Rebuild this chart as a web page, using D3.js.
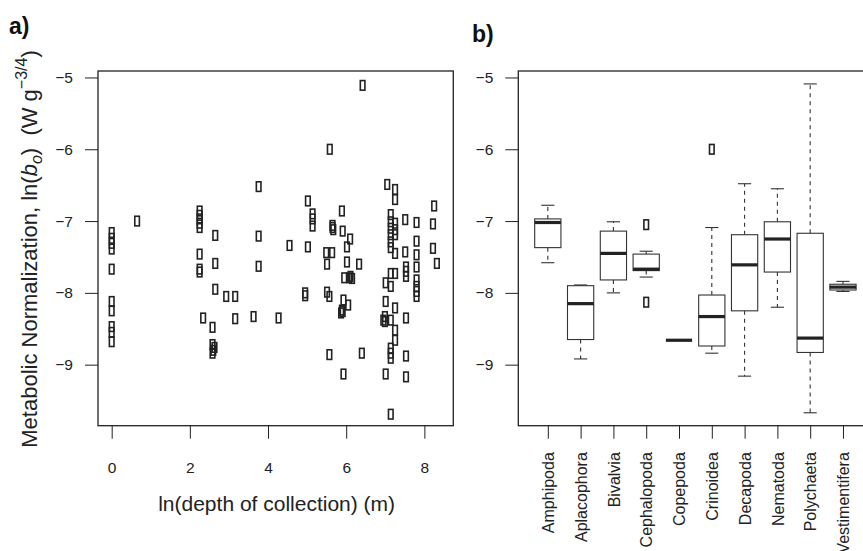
<!DOCTYPE html>
<html>
<head>
<meta charset="UTF-8">
<title>metabolic normalization</title>
<style>
    body { margin: 0; background: #fff; }
    svg { font-family: "Liberation Sans", Arial, sans-serif; }
    .axis text { font-size: 15.5px; fill: #222; }
    .axis line { stroke: #222; stroke-width: 1; }
    .axis path.domain { display: none; }
    .frame { fill: none; stroke: #222; stroke-width: 1.3; }
    .pt { fill: none; stroke: #222; stroke-width: 1.6; }
    .box { fill: #fff; stroke: #333; stroke-width: 1.1; }
    .median { stroke: #222; stroke-width: 3.2; }
    .whisker { stroke: #333; stroke-width: 1.1; stroke-dasharray: 4 4; }
    .staple { stroke: #333; stroke-width: 1.1; }
    .outlier { fill: none; stroke: #222; stroke-width: 1.6; }
    .lab { font-size: 21px; fill: #222; }
    .panel { font-size: 23px; font-weight: bold; fill: #111; }
</style>
</head>
<body>
<script src="https://d3js.org/d3.v7.min.js"></script>
<script>

// panel a: ln(depth) vs ln(b_o)
var depthLn = [0, 0, 0, 0, 0, 0, 0, 0, 0, 0,
    0.65,
    2.25, 2.25, 2.25, 2.25, 2.25, 2.25, 2.25, 2.25, 2.34,
    2.65, 2.65, 2.65, 2.58, 2.58, 2.63, 2.6, 2.58,
    2.93, 3.16, 3.16, 3.76, 3.76, 3.76, 3.63, 4.55, 4.27,
    6.42, 5.58, 7.05, 7.25, 7.25, 5.02, 8.25, 5.89,
    5.14, 5.14, 5.14, 5.65, 5.65, 5.67, 5.91, 6.1,
    7.14, 7.14, 7.14, 7.14, 7.14, 7.14,
    7.25, 7.25, 7.25, 7.25, 7.51, 7.51,
    7.8, 7.8, 7.8, 8.22, 8.22,
    5.02, 5.49, 5.64, 5.51, 6.02, 6.02, 6.33,
    5.95, 6.08, 6.11, 6.15, 4.95, 4.95, 5.51, 5.57, 5.93, 6.05,
    5.89, 5.87, 5.91, 5.57, 6.4, 5.93, 7.14,
    7.14, 7.14, 7.25, 7.25, 7.01, 7.01,
    6.99, 6.99, 6.95, 7.14, 7.25, 7.25, 7.14, 7.14, 7.14, 7.01,
    7.53, 7.53, 7.53, 7.53, 7.53, 7.53,
    7.8, 7.8, 7.8, 7.8, 7.8, 8.32];
var normLn = [-7.16, -7.24, -7.31, -7.39, -7.67, -8.12, -8.25, -8.47, -8.55, -8.68,
    -7.0,
    -6.86, -6.92, -6.97, -7.03, -7.09, -7.46, -7.67, -7.71, -8.35,
    -7.2, -7.59, -7.95, -8.48, -8.72, -8.76, -8.8, -8.84,
    -8.05, -8.05, -8.36, -6.52, -7.21, -7.63, -8.33, -7.34, -8.35,
    -5.11, -6.0, -6.49, -6.56, -6.7, -6.72, -6.79, -6.86,
    -6.9, -6.97, -7.07, -7.06, -7.09, -7.12, -7.14, -7.25,
    -6.91, -7.01, -7.1, -7.19, -7.29, -7.37,
    -7.03, -7.12, -7.19, -7.45, -6.98, -7.43,
    -7.02, -7.28, -7.47, -7.04, -7.38,
    -7.36, -7.44, -7.44, -7.6, -7.36, -7.57, -7.6,
    -7.79, -7.79, -7.77, -7.8, -8.0, -8.04, -7.99, -8.05, -8.1, -8.17,
    -8.24, -8.28, -8.26, -8.86, -8.84, -9.13, -9.69,
    -7.73, -7.91, -7.73, -8.21, -7.86, -8.12,
    -8.33, -8.4, -8.38, -8.38, -8.52, -8.66, -8.77, -8.84, -8.91, -9.13,
    -7.64, -7.7, -7.77, -8.35, -8.88, -9.17,
    -7.64, -7.82, -7.91, -7.98, -8.05, -7.59];

// panel b: boxplot statistics per taxon
var taxa = ["Amphipoda", "Aplacophora", "Bivalvia", "Cephalopoda", "Copepoda",
            "Crinoidea", "Decapoda", "Nematoda", "Polychaeta", "Vestimentifera"];
var whiskLo = [-7.58, -8.92, -8.0, -7.78, -8.66, -8.84, -9.16, -8.2, -9.67, -7.98];
var q1 =      [-7.37, -8.65, -7.82, -7.69, -8.66, -8.74, -8.25, -7.71, -8.83, -7.96];
var medians = [-7.02, -8.15, -7.45, -7.67, -8.66, -8.33, -7.61, -7.25, -8.63, -7.92];
var q3 =      [-6.97, -7.9, -7.14, -7.46, -8.66, -8.03, -7.19, -7.01, -7.17, -7.88];
var whiskHi = [-6.78, -7.89, -7.01, -7.42, -8.66, -7.09, -6.48, -6.55, -5.09, -7.84];
var outlierTaxon = [4, 4, 6];
var outlierVal = [-7.05, -8.13, -6.0];

var yTicks = [-5, -6, -7, -8, -9];
var xTicksA = [0, 2, 4, 6, 8];

var W = 863, H = 551;
var plotTop = 71, plotBottom = 425.7;
var aLeft = 98, aRight = 453.3;
var bLeft = 518.3, bRight = 872.5;

var svg = d3.select("body").append("svg")
    .attr("width", W)
    .attr("height", H);

var y = d3.scaleLinear().domain([-9.85, -4.91]).range([plotBottom, plotTop]);
var xa = d3.scaleLinear().domain([-0.35, 8.74]).range([aLeft, aRight]);
var xb = d3.scaleLinear().domain([0.1, 10.9]).range([bLeft, bRight]);

var intFmt = d3.format("d");

// ---- panel a ----
var ga = svg.append("g");

ga.append("g")
    .attr("class", "axis")
    .attr("transform", "translate(" + aLeft + ",0)")
    .call(d3.axisLeft(y).tickValues(yTicks).tickSize(13).tickPadding(12).tickFormat(intFmt));

ga.append("g")
    .attr("class", "axis")
    .attr("transform", "translate(0," + plotBottom + ")")
    .call(d3.axisBottom(xa).tickValues(xTicksA).tickSize(13).tickPadding(23).tickFormat(intFmt));

ga.selectAll("rect.pt")
    .data(depthLn)
    .enter().append("rect")
    .attr("class", "pt")
    .attr("x", function (d) { return xa(d) - 2.3; })
    .attr("y", function (d, i) { return y(normLn[i]) - 4.8; })
    .attr("width", 4.6)
    .attr("height", 9.6);

ga.append("rect")
    .attr("class", "frame")
    .attr("x", aLeft).attr("y", plotTop)
    .attr("width", aRight - aLeft).attr("height", plotBottom - plotTop);

ga.append("text")
    .attr("class", "lab")
    .attr("x", (aLeft + aRight) / 2 + 1)
    .attr("y", 511)
    .attr("text-anchor", "middle")
    .text("ln(depth of collection) (m)");

var ylab = ga.append("text")
    .attr("class", "lab")
    .attr("text-anchor", "middle")
    .style("font-size", "22px")
    .attr("transform", "translate(37,249) rotate(-90)");
ylab.append("tspan").text("Metabolic Normalization, ln(");
ylab.append("tspan").style("font-style", "italic").text("b");
ylab.append("tspan").style("font-style", "italic").style("font-size", "16px").attr("dy", 5).text("o");
ylab.append("tspan").attr("dy", -5).text(")\u00a0\u00a0(W g");
ylab.append("tspan").style("font-size", "16px").attr("dy", -10).text("\u22123/4");
ylab.append("tspan").attr("dy", 10).text(")");

ga.append("text").attr("class", "panel").attr("x", 9).attr("y", 34).text("a)");

// ---- panel b ----
var gb = svg.append("g");

gb.append("g")
    .attr("class", "axis")
    .attr("transform", "translate(" + bLeft + ",0)")
    .call(d3.axisLeft(y).tickValues(yTicks).tickSize(13).tickPadding(12).tickFormat(intFmt));

var xAxisB = gb.append("g")
    .attr("class", "axis")
    .attr("transform", "translate(0," + plotBottom + ")")
    .call(d3.axisBottom(xb).tickValues(d3.range(1, taxa.length + 1)).tickSize(13)
        .tickFormat(function (d) { return taxa[d - 1]; }));

xAxisB.selectAll("text")
    .attr("transform", "rotate(-90)")
    .attr("text-anchor", "end")
    .attr("x", -26.5)
    .attr("y", 0)
    .attr("dy", "0.35em")
    .style("font-size", "16px");

var half = 0.4, cap = 0.2;
var boxes = gb.selectAll("g.taxon")
    .data(taxa)
    .enter().append("g")
    .attr("class", "taxon");

boxes.append("line")
    .attr("class", "whisker")
    .attr("x1", function (d, i) { return xb(i + 1); })
    .attr("x2", function (d, i) { return xb(i + 1); })
    .attr("y1", function (d, i) { return y(q3[i]); })
    .attr("y2", function (d, i) { return y(whiskHi[i]); });

boxes.append("line")
    .attr("class", "whisker")
    .attr("x1", function (d, i) { return xb(i + 1); })
    .attr("x2", function (d, i) { return xb(i + 1); })
    .attr("y1", function (d, i) { return y(q1[i]); })
    .attr("y2", function (d, i) { return y(whiskLo[i]); });

boxes.append("line")
    .attr("class", "staple")
    .attr("x1", function (d, i) { return xb(i + 1 - cap); })
    .attr("x2", function (d, i) { return xb(i + 1 + cap); })
    .attr("y1", function (d, i) { return y(whiskHi[i]); })
    .attr("y2", function (d, i) { return y(whiskHi[i]); });

boxes.append("line")
    .attr("class", "staple")
    .attr("x1", function (d, i) { return xb(i + 1 - cap); })
    .attr("x2", function (d, i) { return xb(i + 1 + cap); })
    .attr("y1", function (d, i) { return y(whiskLo[i]); })
    .attr("y2", function (d, i) { return y(whiskLo[i]); });

boxes.append("rect")
    .attr("class", "box")
    .attr("x", function (d, i) { return xb(i + 1 - half); })
    .attr("width", function (d, i) { return xb(i + 1 + half) - xb(i + 1 - half); })
    .attr("y", function (d, i) { return y(q3[i]); })
    .attr("height", function (d, i) { return y(q1[i]) - y(q3[i]); });

boxes.append("line")
    .attr("class", "median")
    .attr("x1", function (d, i) { return xb(i + 1 - half); })
    .attr("x2", function (d, i) { return xb(i + 1 + half); })
    .attr("y1", function (d, i) { return y(medians[i]); })
    .attr("y2", function (d, i) { return y(medians[i]); });

gb.selectAll("rect.outlier")
    .data(outlierVal)
    .enter().append("rect")
    .attr("class", "outlier")
    .attr("x", function (d, i) { return xb(outlierTaxon[i]) - 2.3; })
    .attr("y", function (d) { return y(d) - 4.8; })
    .attr("width", 4.6)
    .attr("height", 9.6);

gb.append("rect")
    .attr("class", "frame")
    .attr("x", bLeft).attr("y", plotTop)
    .attr("width", bRight - bLeft).attr("height", plotBottom - plotTop);

gb.append("text").attr("class", "panel").attr("x", 472).attr("y", 42).text("b)");

</script>
</body>
</html>
